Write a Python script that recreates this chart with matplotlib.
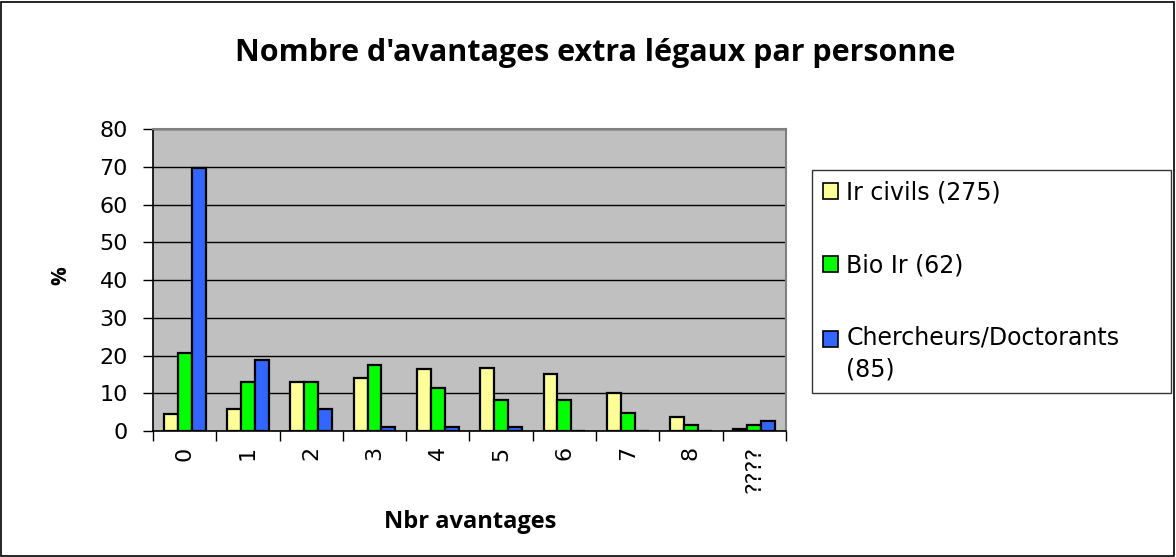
import matplotlib
matplotlib.use("Agg")
import matplotlib.pyplot as plt
import numpy as np
from matplotlib.patches import Rectangle, Patch
from matplotlib.legend_handler import HandlerPatch

categories = ["0", "1", "2", "3", "4", "5", "6", "7", "8", "????"]
series_names = ["Ir civils (275)", "Bio Ir (62)", "Chercheurs/Doctorants\n(85)"]
ir_civils = [4.6, 5.7, 12.9, 14.0, 16.5, 16.7, 15.2, 10.0, 3.6, 0.5]
bio_ir = [20.7, 12.9, 12.9, 17.6, 11.4, 8.3, 8.3, 4.7, 1.5, 1.5]
chercheurs = [69.8, 18.7, 5.7, 1.0, 1.0, 1.0, 0.0, 0.0, 0.0, 2.6]
colors = ["#FFFF99", "#00FF00", "#3366FF"]

plt.rcParams['font.family'] = ['DejaVu Sans']

fig = plt.figure(figsize=(11.76, 5.57), dpi=100)
fig.patches.append(Rectangle((0.001, 0.002), 0.997, 0.995, transform=fig.transFigure,
                             fill=False, edgecolor="black", linewidth=1.2))
ax = fig.add_axes([0.1301, 0.2262, 0.5382, 0.5422])
ax.set_facecolor("#C0C0C0")

x = np.arange(len(categories))
w = 0.22
for i, (vals, c) in enumerate(zip([ir_civils, bio_ir, chercheurs], colors)):
    ax.bar(x + (i - 1) * w, vals, width=w, color=c, edgecolor="black", linewidth=1.6,
           zorder=3, label=series_names[i])

ax.set_xlim(-0.5, len(categories) - 0.5)
ax.set_ylim(0, 80)
ax.set_yticks(np.arange(0, 81, 10))
ax.yaxis.grid(True, color="black", linewidth=1.0, zorder=1)
ax.set_axisbelow(True)

ax.set_xticks(np.arange(-0.5, len(categories), 1.0))
ax.set_xticklabels([])
ax.set_xticks(x, minor=True)
ax.set_xticklabels(categories, minor=True, rotation=90, fontsize=16)
ax.tick_params(axis="x", which="major", length=7, width=1, direction="out", color="black")
ax.tick_params(axis="x", which="minor", length=0, pad=11)
ax.tick_params(axis="y", length=7, width=1, direction="out", labelsize=16, pad=11)

for s in ["top", "right"]:
    ax.spines[s].set_color("#808080")
    ax.spines[s].set_linewidth(1.5)
for s in ["left", "bottom"]:
    ax.spines[s].set_color("black")
    ax.spines[s].set_linewidth(1.2)

fig.text(0.506, 0.905, "Nombre d'avantages extra légaux par personne", ha="center", va="center",
         fontsize=22, fontweight="bold", family="Open Sans")
fig.text(0.4, 0.062, "Nbr avantages", ha="center", va="center", fontsize=17, fontweight="bold",
         family="Open Sans")
fig.text(0.052, 0.505, "%", ha="center", va="center", fontsize=15, fontweight="bold",
         rotation=90, family="Open Sans")


class ShiftedHandler(HandlerPatch):
    def __init__(self, shift=0.0, **kw):
        super().__init__(**kw)
        self.shift = shift

    def create_artists(self, legend, orig_handle, xdescent, ydescent, width, height,
                       fontsize, trans):
        p = Rectangle((-xdescent, -ydescent + self.shift), width, height)
        self.update_prop(p, orig_handle, legend)
        p.set_transform(trans)
        return [p]


handles = [Patch(facecolor=c, edgecolor="black", linewidth=1.2) for c in colors]
leg = fig.legend(handles, series_names, loc="upper left",
                 bbox_to_anchor=(0.6905, 0.3088, 0.305, 0.386), mode="expand",
                 frameon=True, fancybox=False, edgecolor="black", fontsize=17,
                 handlelength=0.65, handleheight=0.65, handletextpad=0.35,
                 labelspacing=2.05, borderpad=0.45, borderaxespad=0,
                 handler_map={handles[2]: ShiftedHandler(shift=11.5)})
leg.get_frame().set_linewidth(1.0)
for t in leg.get_texts():
    t.set_linespacing(1.45)

fig.savefig("out.png", dpi=100)
